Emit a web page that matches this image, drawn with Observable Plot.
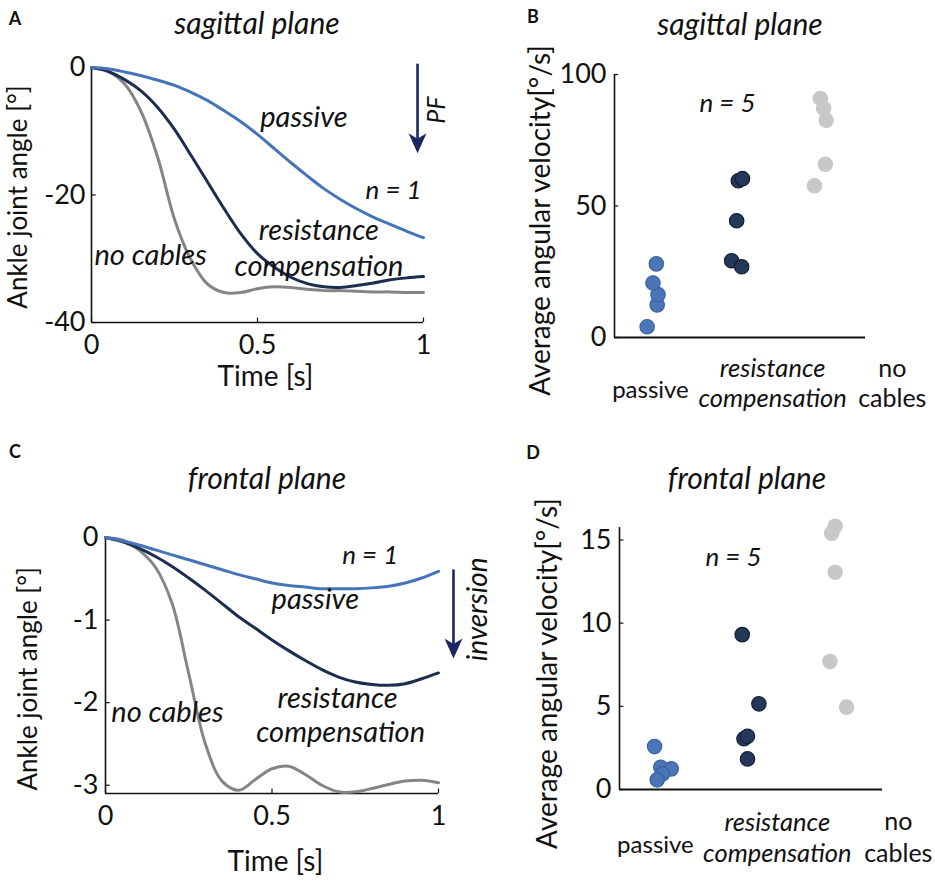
<!DOCTYPE html>
<html>
<head>
<meta charset="utf-8">
<script src="https://cdn.jsdelivr.net/npm/d3@7"></script>
<script src="https://cdn.jsdelivr.net/npm/@observablehq/plot@0.6"></script>
<style>
  body { margin: 0; background: #fff; }
  #root { position: relative; width: 935px; height: 881px; background: #fff; font-family: Lato, sans-serif; color: #111; }
  .panel { position: absolute; }
  .lbl { position: absolute; transform: translate(-50%, -50%); white-space: nowrap; }
  .title { font-style: italic; font-size: 30px; }
  .letter { font-weight: bold; font-size: 18px; }
  svg { overflow: visible; }
</style>
</head>
<body>
<div id="root">
  <div class="lbl letter" style="left:15px;top:18px">A</div>
  <div class="lbl letter" style="left:533px;top:16px">B</div>
  <div class="lbl letter" style="left:15px;top:451px">C</div>
  <div class="lbl letter" style="left:533px;top:452px">D</div>
  <div class="lbl title" style="left:257px;top:22px">sagittal plane</div>
  <div class="lbl title" style="left:740px;top:23px">sagittal plane</div>
  <div class="lbl title" style="left:267px;top:477px">frontal plane</div>
  <div class="lbl title" style="left:747px;top:477px">frontal plane</div>
</div>
<script>
// ---------- Data ----------
const seriesNames = ["passive", "resistance compensation", "no cables"];
const lineColors = ["#4575b8", "#1c2d4f", "#858585"];
const dotFill = ["#4a76b8", "#24395a", "#c8c8c8"];
const dotStroke = ["#3a63a3", "#131f36", "#c8c8c8"];

const time = [0,0.05,0.1,0.15,0.2,0.25,0.3,0.35,0.4,0.45,0.5,0.55,0.6,0.65,0.7,0.75,0.8,0.85,0.9,0.95,1];

// Panel A: sagittal ankle joint angle [deg]
const sagPassive    = [0,-0.2,-0.7,-1.3,-2.0,-2.8,-3.9,-5.2,-6.8,-8.5,-10.5,-12.7,-14.9,-17.0,-19.0,-20.7,-22.2,-23.5,-24.6,-25.7,-26.7];
const sagResistance = [0,-0.6,-1.9,-3.7,-6.3,-9.7,-13.8,-18.0,-22.2,-26.1,-29.2,-31.3,-32.9,-33.9,-34.4,-34.5,-34.2,-33.8,-33.3,-33.0,-32.8];
const sagNoCables   = [0,-0.6,-2.6,-7.0,-14.2,-23.8,-30.2,-34.0,-35.3,-35.3,-34.7,-34.4,-34.5,-34.8,-35.0,-35.0,-35.1,-35.2,-35.2,-35.3,-35.3];

// Panel C: frontal ankle joint angle [deg]
const froPassive    = [0,-0.04,-0.09,-0.15,-0.21,-0.27,-0.33,-0.39,-0.45,-0.50,-0.55,-0.58,-0.60,-0.62,-0.62,-0.62,-0.61,-0.59,-0.55,-0.49,-0.41];
const froResistance = [0,-0.05,-0.13,-0.23,-0.35,-0.49,-0.64,-0.80,-0.96,-1.10,-1.24,-1.37,-1.49,-1.60,-1.69,-1.75,-1.78,-1.79,-1.77,-1.71,-1.64];
const froNoCables   = [0,-0.03,-0.15,-0.36,-0.80,-1.65,-2.50,-2.95,-3.06,-2.93,-2.80,-2.77,-2.87,-3.00,-3.08,-3.08,-3.04,-2.99,-2.95,-2.94,-2.97];

// Panel B: sagittal average angular velocity [deg/s] (x = category position with jitter)
const sagVelPassive    = [4.1, 12.4, 16.3, 20.7, 28.0];
const sagVelPassiveX   = [0.39, 0.51, 0.52, 0.46, 0.50];
const sagVelResist     = [29.2, 26.9, 44.4, 59.6, 60.4];
const sagVelResistX    = [1.40, 1.52, 1.46, 1.48, 1.53];
const sagVelNoCab      = [90.9, 87.2, 82.6, 65.9, 57.7];
const sagVelNoCabX     = [2.46, 2.50, 2.53, 2.52, 2.39];

// Panel D: frontal average angular velocity [deg/s]
const froVelPassive    = [2.58, 1.34, 1.24, 0.94, 0.58];
const froVelPassiveX   = [0.40, 0.47, 0.59, 0.49, 0.43];
const froVelResist     = [9.31, 5.15, 3.05, 3.20, 1.84];
const froVelResistX    = [1.40, 1.59, 1.42, 1.46, 1.46];
const froVelNoCab      = [15.82, 15.4, 13.06, 7.69, 4.95];
const froVelNoCabX     = [2.46, 2.42, 2.46, 2.40, 2.59];

const ticksTimeX = [0, 0.5, 1];
const ticksSagY = [0, -20, -40];
const ticksFroY = [0, -1, -2, -3];
const ticksSagVel = [0, 50, 100];
const ticksFroVel = [0, 5, 10, 15];

// ---------- helpers ----------
const FONT = "Lato, sans-serif";
const AX = "#111";
const arrowColor = "#1b2660";
const TICK = 27, ITAL = 29, LAB = 28, CAT = 25.5;

function lineTable(vals, names) {
  const rows = [];
  vals.forEach((arr, i) => arr.forEach((v, j) => rows.push({t: time[j], v, s: names[i]})));
  return rows;
}
function dotTable(ys, xs) {
  const rows = [];
  ys.forEach((arr, i) => arr.forEach((v, j) => rows.push({x: xs[i][j], v, s: seriesNames[i], k: i})));
  return rows;
}
// filled barbed arrowhead pointing down
const arrowHead = {
  draw(ctx, size) {
    const r = Math.sqrt(size / Math.PI);
    ctx.moveTo(0, r);
    ctx.lineTo(-0.9 * r, -r);
    ctx.lineTo(0, -0.45 * r);
    ctx.lineTo(0.9 * r, -r);
    ctx.closePath();
  }
};
function place(el, left, top) {
  const d = document.createElement("div");
  d.className = "panel";
  d.style.left = left + "px";
  d.style.top = top + "px";
  d.appendChild(el);
  document.getElementById("root").appendChild(d);
}
const txt = (data, opts) => Plot.text(data, {fontFamily: FONT, fill: "#111", ...opts});
const drawOrder = [seriesNames[2], seriesNames[1], seriesNames[0]];

// ---------- Panel A ----------
{
  const data = lineTable([sagNoCables, sagResistance, sagPassive], drawOrder);
  const p = Plot.plot({
    width: 467, height: 440,
    marginLeft: 91, marginRight: 44, marginTop: 67, marginBottom: 118,
    x: {domain: [0, 1]}, y: {domain: [-40, 0]},
    color: {domain: seriesNames, range: lineColors},
    style: {fontFamily: FONT, fontSize: TICK + "px", background: "transparent", overflow: "visible"},
    marks: [
      Plot.ruleX([0], {y1: -40, y2: 0, stroke: AX, strokeWidth: 1.6}),
      Plot.ruleY([-40], {x1: 0, x2: 1, stroke: AX, strokeWidth: 1.6}),
      Plot.ruleY(ticksSagY, {x1: 0, x2: 0.014, stroke: AX, strokeWidth: 1.2}),
      Plot.ruleX(ticksTimeX, {y1: -40, y2: -39.3, stroke: AX, strokeWidth: 1.2}),
      Plot.axisY({ticks: ticksSagY, tickSize: 0, tickPadding: 6, tickFormat: d => String(d), fontSize: TICK, label: null}),
      Plot.axisX({ticks: ticksTimeX, tickSize: 0, tickPadding: 12, tickFormat: d => String(d), fontSize: TICK, label: null}),
      Plot.line(data, {x: "t", y: "v", z: "s", stroke: "s", strokeWidth: 3, curve: "catmull-rom"}),
      txt(["Ankle joint angle [°]"], {x: -0.22, y: -20.3, rotate: -90, fontSize: 26}),
      txt(["Time [s]"], {x: 0.524, y: -48.5, fontSize: LAB}),
      txt(["passive"], {x: 0.64, y: -7.8, fontSize: ITAL, fontStyle: "italic"}),
      txt(["n = 1"], {x: 0.91, y: -19.3, fontSize: 26, fontStyle: "italic"}),
      txt(["resistance"], {x: 0.685, y: -25.6, fontSize: ITAL, fontStyle: "italic"}),
      txt(["compensation"], {x: 0.685, y: -31.3, fontSize: ITAL, fontStyle: "italic"}),
      txt(["no cables"], {x: 0.178, y: -29.5, fontSize: ITAL, fontStyle: "italic"}),
      Plot.link([0], {x1: 0.982, x2: 0.982, y1: 0.6, y2: -11.2, stroke: arrowColor, strokeWidth: 2.6}),
      Plot.dot([0], {x: 0.982, y: -11.9, r: 10, symbol: arrowHead, fill: arrowColor, stroke: "none"}),
      txt(["PF"], {x: 1.042, y: -6.7, rotate: -90, fontSize: 25, fontStyle: "italic"})
    ]
  });
  place(p, 0, 0);
}

// ---------- Panel C ----------
{
  const data = lineTable([froNoCables, froResistance, froPassive], drawOrder);
  const p = Plot.plot({
    width: 467, height: 441,
    marginLeft: 105, marginRight: 29, marginTop: 97, marginBottom: 88,
    x: {domain: [0, 1]}, y: {domain: [-3.1, 0]},
    color: {domain: seriesNames, range: lineColors},
    style: {fontFamily: FONT, fontSize: TICK + "px", background: "transparent", overflow: "visible"},
    marks: [
      Plot.ruleX([0], {y1: -3.1, y2: 0, stroke: AX, strokeWidth: 1.6}),
      Plot.ruleY([-3.1], {x1: 0, x2: 1, stroke: AX, strokeWidth: 1.6}),
      Plot.ruleY(ticksFroY, {x1: 0, x2: 0.014, stroke: AX, strokeWidth: 1.2}),
      Plot.ruleX(ticksTimeX, {y1: -3.1, y2: -3.045, stroke: AX, strokeWidth: 1.2}),
      Plot.axisY({ticks: ticksFroY, tickSize: 0, tickPadding: 7, tickFormat: d => String(d), fontSize: TICK, label: null}),
      Plot.axisX({ticks: ticksTimeX, tickSize: 0, tickPadding: 12, tickFormat: d => String(d), fontSize: TICK, label: null}),
      Plot.line(data, {x: "t", y: "v", z: "s", stroke: "s", strokeWidth: 3, curve: "catmull-rom"}),
      txt(["Ankle joint angle [°]"], {x: -0.231, y: -1.71, rotate: -90, fontSize: 26}),
      txt(["Time [s]"], {x: 0.51, y: -3.93, fontSize: LAB}),
      txt(["n = 1"], {x: 0.795, y: -0.22, fontSize: 26, fontStyle: "italic"}),
      txt(["passive"], {x: 0.63, y: -0.75, fontSize: ITAL, fontStyle: "italic"}),
      txt(["resistance"], {x: 0.697, y: -1.95, fontSize: ITAL, fontStyle: "italic"}),
      txt(["compensation"], {x: 0.706, y: -2.37, fontSize: ITAL, fontStyle: "italic"}),
      txt(["no cables"], {x: 0.186, y: -2.12, fontSize: ITAL, fontStyle: "italic"}),
      Plot.link([0], {x1: 1.045, x2: 1.045, y1: -0.387, y2: -1.30, stroke: arrowColor, strokeWidth: 2.6}),
      Plot.dot([0], {x: 1.045, y: -1.345, r: 10, symbol: arrowHead, fill: arrowColor, stroke: "none"}),
      txt(["inversion"], {x: 1.12, y: -0.87, rotate: -90, fontSize: 28, fontStyle: "italic"})
    ]
  });
  place(p, 0, 440);
}

// ---------- Panels B and D ----------
function velPanel(opts) {
  const dots = dotTable(opts.ys, opts.xs);
  const [y0, y1] = opts.yDomain;
  return Plot.plot({
    width: opts.width, height: opts.height,
    marginLeft: opts.ml, marginRight: opts.mr, marginTop: opts.mt, marginBottom: opts.mb,
    x: {domain: [0, 3], axis: null}, y: {domain: opts.yDomain},
    style: {fontFamily: FONT, fontSize: TICK + "px", background: "transparent", overflow: "visible"},
    marks: [
      Plot.ruleX([0], {y1: y0, y2: y1, stroke: AX, strokeWidth: 1.6}),
      Plot.ruleY([0], {x1: 0, x2: 3, stroke: AX, strokeWidth: 2.2}),
      Plot.ruleY(opts.ticks, {x1: 0, x2: 0.05, stroke: AX, strokeWidth: 1.2}),
      Plot.axisY({ticks: opts.ticks, tickSize: 0, tickPadding: 8, tickFormat: d => String(d), fontSize: TICK, label: null}),
      Plot.dot(dots, {x: "x", y: "v", r: 7.2, fill: d => dotFill[d.k], stroke: d => dotStroke[d.k], strokeWidth: 1.2}),
      txt(["Average angular velocity[°/s]"], {x: opts.ylab[0], y: opts.ylab[1], rotate: -90, fontSize: 28}),
      txt(["n = 5"], {x: opts.n5[0], y: opts.n5[1], fontSize: 26, fontStyle: "italic"}),
      txt(["passive"], {x: opts.cat[0], y: opts.cat[1], fontSize: 24}),
      txt(["resistance"], {x: opts.cat[2], y: opts.cat[3], fontSize: CAT, fontStyle: "italic"}),
      txt(["compensation"], {x: opts.cat[2], y: opts.cat[4], fontSize: CAT, fontStyle: "italic"}),
      txt(["no"], {x: opts.cat[5], y: opts.cat[3], fontSize: 25}),
      txt(["cables"], {x: opts.cat[5], y: opts.cat[4], fontSize: 25})
    ]
  });
}
place(velPanel({
  width: 468, height: 440, ml: 147, mr: 70, mt: 74, mb: 103,
  yDomain: [0, 100], ticks: ticksSagVel,
  ys: [sagVelPassive, sagVelResist, sagVelNoCab],
  xs: [sagVelPassiveX, sagVelResistX, sagVelNoCabX],
  ylab: [-0.884, 44.5], n5: [1.35, 89],
  cat: [0.43, -20.2, 1.89, -11.8, -23.2, 3.32]
}), 467, 0);

place(velPanel({
  width: 468, height: 441, ml: 152, mr: 53, mt: 87, mb: 92,
  yDomain: [0, 15.75], ticks: ticksFroVel,
  ys: [froVelPassive, froVelResist, froVelNoCab],
  xs: [froVelPassiveX, froVelResistX, froVelNoCabX],
  ylab: [-0.81, 6.97], n5: [1.30, 13.94],
  cat: [0.41, -3.37, 1.80, -1.98, -3.85, 3.18]
}), 467, 440);
</script>
</body>
</html>
